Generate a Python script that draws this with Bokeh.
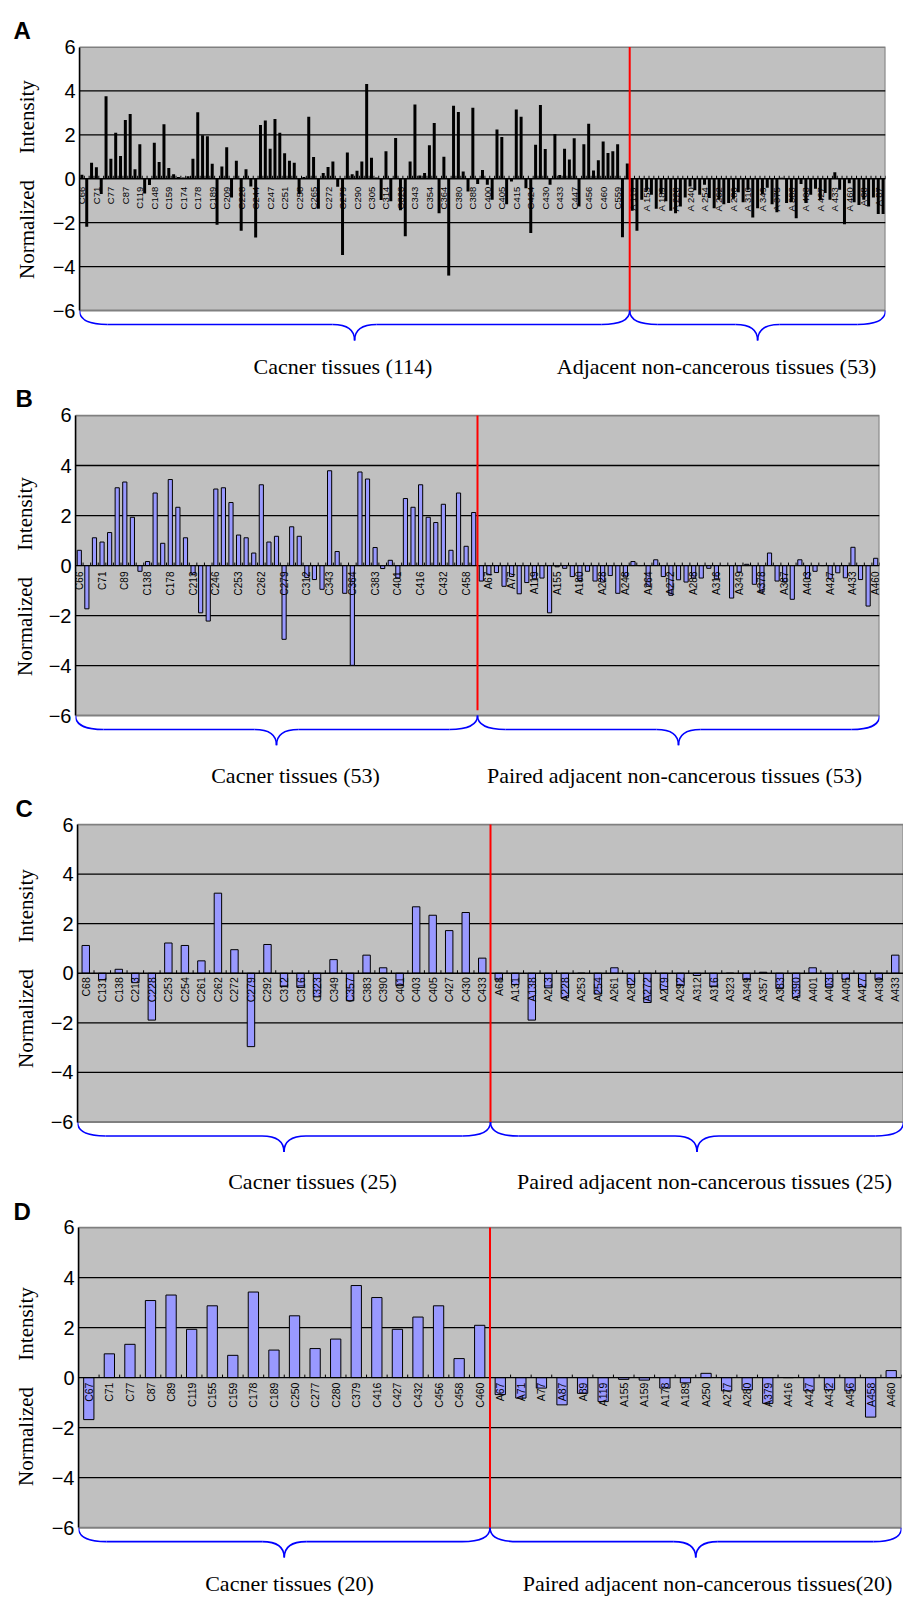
import numpy as np
from math import pi
from bokeh.plotting import figure
from bokeh.models import FixedTicker, Range1d, Title
from bokeh.embed import file_html
from bokeh.resources import INLINE
from bokeh.core.properties import value

y_ticks = [-6, -4, -2, 0, 2, 4, 6]
grid_y = [-4, -2, 2, 4]

# ---------------- Panel A ----------------
a_cancer = [0.18, -2.19, 0.73, 0.52, -0.70, 3.76, 0.91, 2.10, 1.04, 2.68,
            2.95, 0.43, 1.57, -0.67, -0.29, 1.64, 0.76, 2.48, 0.49, 0.21,
            0.08, 0.06, 0.11, 0.91, 3.03, 1.98, 1.93, 0.68, -2.10, 0.56,
            1.43, -0.85, 0.82, -2.37, 0.43, -0.35, -2.68, 2.45, 2.65, 1.37,
            2.72, 2.09, 1.16, 0.82, 0.73, -0.70, 0.08, 2.82, 0.99, -1.37,
            0.26, 0.53, 0.79, -0.37, -3.47, 1.19, 0.21, 0.37, 0.79, 4.32,
            0.96, 0.06, -0.97, 1.25, -1.03, 1.86, -1.43, -2.62, 0.79, 3.38,
            0.15, 0.26, 1.52, 2.54, -1.57, 1.00, -4.41, 3.32, 3.04, 0.33,
            -0.58, 3.23, -0.24, 0.40, -0.27, -0.96, 2.24, 1.90, -1.16, -0.12,
            3.15, 2.82, -0.43, -2.47, 1.55, 3.36, 1.35, -0.27, 2.04, 0.17,
            1.37, 0.88, 1.84, -1.26, 1.57, 2.51, 0.38, 0.84, 1.70, 1.17,
            1.25, 1.57, -2.66, 0.70]
a_adjacent = [-1.46, -2.37, -0.96, -0.55, -0.73, -1.37, -0.70, -1.03, -1.46, -1.57,
              -1.26, -0.85, -0.35, -0.52, -0.73, -0.27, -0.88, -1.34, -0.96, -1.16,
              -1.11, -0.91, -0.61, -1.07, -0.50, -1.77, -1.34, -0.70, -0.41, -1.16,
              -1.52, 0.05, -1.11, -1.07, -1.80, -0.24, -1.11, -0.73, -0.46, -0.96,
              -0.65, -0.96, 0.30, -0.50, -2.07, -0.20, -1.07, -1.19, -0.96, -1.26,
              -0.85, -1.61, -1.61]
# one label for every third bar
a_labels = ["C66", "C71", "C77", "C87", "C119", "C148", "C159", "C174", "C178", "C189",
            "C209", "C228", "C244", "C247", "C251", "C258", "C265", "C272", "C279", "C290",
            "C305", "C314", "C323", "C343", "C354", "C364", "C380", "C388", "C400", "C405",
            "C415", "C424", "C430", "C433", "C447", "C456", "C460", "C559",
            "A 119", "A 155", "A 189", "A 228", "A 240", "A 254", "A 262", "A 280", "A 316",
            "A 349", "A 375", "A 383", "A 403", "A 427", "A 433", "A 460", "A 68", "A 87"]
a_groups = ["Cacner tissues (114)", "Adjacent non-cancerous tissues (53)"]

# ---------------- Panel B ----------------
b_cancer = [0.61, -1.73, 1.11, 0.94, 1.32, 3.11, 3.34, 1.93, -0.23, 0.16,
            2.90, 0.89, 3.44, 2.33, 1.11, -0.37, -1.89, -2.22, 3.06, 3.11,
            2.52, 1.22, 1.11, 0.50, 3.23, 0.94, 1.17, -2.95, 1.55, 1.17,
            -0.48, -0.56, -0.95, 3.79, 0.56, -1.11, -3.99, 3.74, 3.46, 0.72,
            -0.12, 0.21, -0.50, 2.68, 2.33, 3.23, 1.93, 1.72, 2.45, 0.61,
            2.90, 0.77, 2.12]
b_adjacent = [-0.62, -0.37, -0.28, -0.83, -0.44, -1.13, -0.68, -0.53, -0.50, -1.89,
              -0.05, -0.11, -0.44, -0.60, -0.23, -0.62, -0.66, -0.40, -1.11, -0.46,
              0.16, 0.0, -0.83, 0.23, -0.44, -1.19, -0.57, -0.66, -0.50, -0.50,
              -0.11, -0.53, 0.0, -1.30, -0.26, 0.05, -0.75, -1.06, 0.50, -0.62,
              -0.66, -1.35, 0.23, -0.53, -0.23, 0.0, -0.53, -0.29, -0.49, 0.73,
              -0.56, -1.62, 0.29]
b_labels = ["C66", "C71", "C89", "C138", "C178", "C213", "C246", "C253", "C262", "C279",
            "C312", "C343", "C364", "C383", "C401", "C416", "C432", "C458",
            "A67", "A77", "A119", "A155", "A180", "A228", "A248", "A264", "A272", "A288",
            "A316", "A349", "A378", "A387", "A403", "A427", "A433", "A460"]
b_groups = ["Cacner tissues (53)", "Paired adjacent non-cancerous tissues (53)"]

# ---------------- Panel C ----------------
c_cancer_names = ["C68", "C131", "C138", "C213", "C228", "C253", "C254", "C261", "C262", "C272",
                  "C279", "C292", "C312", "C316", "C323", "C349", "C357", "C383", "C390", "C401",
                  "C403", "C405", "C427", "C430", "C433"]
c_cancer = [1.12, -0.26, 0.16, -0.38, -1.89, 1.22, 1.12, 0.50, 3.23, 0.95,
            -2.96, 1.16, -0.54, -0.57, -0.95, 0.55, -1.11, 0.73, 0.22, -0.50,
            2.68, 2.34, 1.72, 2.45, 0.61]
c_adjacent_names = ["A68", "A131", "A138", "A213", "A228", "A253", "A254", "A261", "A262", "A272",
                    "A279", "A292", "A312", "A316", "A323", "A349", "A357", "A383", "A390", "A401",
                    "A403", "A405", "A427", "A430", "A433"]
c_adjacent = [-0.27, -0.46, -1.89, -0.59, -0.99, 0.0, -0.84, 0.22, -0.45, -1.18,
              -0.66, -0.50, -0.09, -0.54, 0.0, -0.26, 0.04, -0.62, -0.97, 0.22,
              -0.55, -0.24, -0.54, -0.26, 0.73]
c_groups = ["Cacner tissues (25)", "Paired adjacent non-cancerous tissues (25)"]

# ---------------- Panel D ----------------
d_cancer_names = ["C67", "C71", "C77", "C87", "C89", "C119", "C155", "C159", "C178", "C189",
                  "C250", "C277", "C280", "C379", "C416", "C427", "C432", "C456", "C458", "C460"]
d_cancer = [-1.68, 0.95, 1.33, 3.08, 3.30, 1.93, 2.87, 0.89, 3.42, 1.10,
            2.47, 1.16, 1.54, 3.68, 3.20, 1.93, 2.42, 2.87, 0.76, 2.09]
d_adjacent_names = ["A67", "A71", "A77", "A87", "A89", "A119", "A155", "A159", "A178", "A189",
                    "A250", "A277", "A280", "A379", "A416", "A427", "A432", "A456", "A458", "A460"]
d_adjacent = [-0.68, -0.82, -0.42, -1.09, -0.63, -0.96, -0.07, -0.10, -0.42, -0.21,
              0.17, -0.53, -0.49, -1.03, 0.0, -0.53, -0.49, -0.53, -1.58, 0.28]
d_groups = ["Cacner tissues (20)", "Paired adjacent non-cancerous tissues(20)"]

CANVAS_W = 903
GRAY = "#C0C0C0"
BLUE_BAR = "#9999FF"
NB = "\u00a0"
Y_LABEL = "Normalized" + NB * 5 + "Intensity"
Y_LABEL_HALF_LEN = 99.5   # half the drawn length of Y_LABEL at 21px (px)


def build(letter, cancer, adjacent, labels, label_step, groups, geo, style):
    nc = len(cancer)
    n = nc + len(adjacent)
    vals = list(cancer) + list(adjacent)
    ppu = (geo["bot6"] - geo["top6"]) / 12.0
    y_end = 6 + (geo["top6"] - geo["frame_top"]) / ppu
    y_start = y_end - (geo["canvas_bottom"] - geo["frame_top"]) / ppu
    pxu = (geo["frame_right"] - geo["frame_left"]) / n

    def dx(px):
        return (px - geo["frame_left"]) / pxu

    def dy(py):
        return 6 - (py - geo["top6"]) / ppu

    lx, lby = geo["letter"]
    title = Title(text=letter, align="left", offset=lx - geo["frame_left"],
                  standoff=max(0, geo["frame_top"] - lby - 5),
                  text_font="Liberation Sans", text_font_size="24px",
                  text_font_style="bold", text_color="black")

    p = figure(width=CANVAS_W, height=geo["canvas_bottom"] - geo["canvas_top"],
               x_range=Range1d(0, n), y_range=Range1d(y_start, y_end),
               min_border_left=geo["frame_left"],
               min_border_right=CANVAS_W - geo["frame_right"],
               min_border_top=geo["frame_top"] - geo["canvas_top"],
               min_border_bottom=0, title=title,
               toolbar_location=None, output_backend="svg")
    p.xaxis.visible = False
    p.grid.visible = False
    p.outline_line_color = None
    p.background_fill_color = "white"
    p.border_fill_color = "white"

    yax = p.yaxis[0]
    yax.ticker = FixedTicker(ticks=y_ticks)
    yax.bounds = (-6, 6)
    yax.axis_line_color = "black"
    yax.axis_line_width = 1.5
    yax.major_tick_in = 0
    yax.major_tick_out = 0
    yax.minor_tick_in = 0
    yax.minor_tick_out = 0
    yax.major_label_standoff = 4
    yax.major_label_text_font = "Liberation Sans"
    yax.major_label_text_font_size = "20px"
    yax.major_label_text_color = "black"

    # y-axis title placed along the plot area
    start_y = geo["ylab_center"] + Y_LABEL_HALF_LEN
    p.add_layout(Title(text=Y_LABEL, align="left", offset=geo["canvas_bottom"] - start_y,
                       standoff=geo["frame_left"] - 57, text_font="Liberation Serif",
                       text_font_size="21px", text_font_style="normal",
                       text_color="black"), "left")

    # plot area
    p.quad(left=[0], right=[n], bottom=[-6], top=[6], fill_color=GRAY,
           line_color="#808080", line_width=2)
    p.segment(x0=[0] * len(grid_y), x1=[n] * len(grid_y), y0=grid_y, y1=grid_y,
              line_color="black", line_width=1.3)

    centers = np.arange(n) + 0.5
    p.vbar(x=centers, top=vals, bottom=0, width=style["bar_width"],
           fill_color=style["fill"], line_color=style["line"], line_width=1)

    # category axis on the zero line
    p.segment(x0=[0], x1=[n], y0=[0], y1=[0], line_color="black", line_width=1.3)
    ks = np.arange(n + 1)
    p.segment(x0=ks, x1=ks, y0=np.zeros(n + 1), y1=np.full(n + 1, 3.0 / ppu),
              line_color="black", line_width=1)

    lab_x = centers[::label_step][:len(labels)]
    p.text(x=lab_x, y=np.zeros(len(labels)), text=labels, angle=pi / 2,
           text_align="right", text_baseline="middle", y_offset=style["label_off"],
           text_font=value("Liberation Sans"), text_font_size=style["label_size"],
           text_color="black")

    # divider
    p.segment(x0=[nc], x1=[nc], y0=[dy(geo["red_py"])], y1=[6],
              line_color="#FF0000", line_width=2)

    # braces
    yh = -6 - 14.0 / ppu
    ytip = -6 - 30.0 / ppu
    r1 = 28.0 / pxu
    r2 = 22.0 / pxu
    for (x0, x1) in [(0, nc), (nc, n)]:
        xm = (x0 + x1) / 2.0
        p.quadratic(x0=[x0, xm - r2, xm, x1 - r1], y0=[-6, yh, ytip, yh],
                    x1=[x0 + r1, xm, xm + r2, x1], y1=[yh, ytip, yh, -6],
                    cx=[x0, xm, xm, x1], cy=[yh, yh, yh, yh],
                    line_color="#0000FF", line_width=1.6)
        p.segment(x0=[x0 + r1, xm + r2], x1=[xm - r2, x1 - r1], y0=[yh, yh], y1=[yh, yh],
                  line_color="#0000FF", line_width=1.6)

    ty = dy(geo["text_py"])
    p.text(x=[dx(px) for px in geo["text_px"]], y=[ty, ty], text=groups,
           text_align="center", text_baseline="middle",
           text_font=value("Liberation Serif"), text_font_size="22px", text_color="black")
    return p


geo_a = dict(canvas_top=0, canvas_bottom=379, frame_left=79, frame_right=885,
             top6=46.5, bot6=310, frame_top=46, letter=(13, 35), ylab_center=179,
             text_px=[342.5, 716], text_py=366, red_py=310)
geo_b = dict(canvas_top=379, canvas_bottom=791, frame_left=75, frame_right=879,
             top6=412, bot6=714.5, frame_top=411, letter=(15, 400), ylab_center=576,
             text_px=[295, 674], text_py=775, red_py=709)
geo_c = dict(canvas_top=791, canvas_bottom=1194, frame_left=77, frame_right=903,
             top6=824, bot6=1121.5, frame_top=823, letter=(15, 815), ylab_center=968,
             text_px=[312, 704], text_py=1181, red_py=1121.5)
geo_d = dict(canvas_top=1194, canvas_bottom=1599, frame_left=78, frame_right=901,
             top6=1226, bot6=1527, frame_top=1225, letter=(13, 1217), ylab_center=1386,
             text_px=[289, 707], text_py=1583, red_py=1527)

style_a = dict(bar_width=0.62, fill="black", line=None, label_off=8, label_size="9.5px")
style_b = dict(bar_width=0.55, fill=BLUE_BAR, line="black", label_off=6, label_size="10px")
style_c = dict(bar_width=0.45, fill=BLUE_BAR, line="black", label_off=4, label_size="10.5px")
style_d = dict(bar_width=0.5, fill=BLUE_BAR, line="black", label_off=5, label_size="10.5px")

pa = build("A", a_cancer, a_adjacent, a_labels, 3, a_groups, geo_a, style_a)
pb = build("B", b_cancer, b_adjacent, b_labels, 3, b_groups, geo_b, style_b)
pc = build("C", c_cancer, c_adjacent, c_cancer_names + c_adjacent_names, 1, c_groups, geo_c, style_c)
pd_ = build("D", d_cancer, d_adjacent, d_cancer_names + d_adjacent_names, 1, d_groups, geo_d, style_d)

open("out.html", "w").write(file_html([pa, pb, pc, pd_], INLINE))
